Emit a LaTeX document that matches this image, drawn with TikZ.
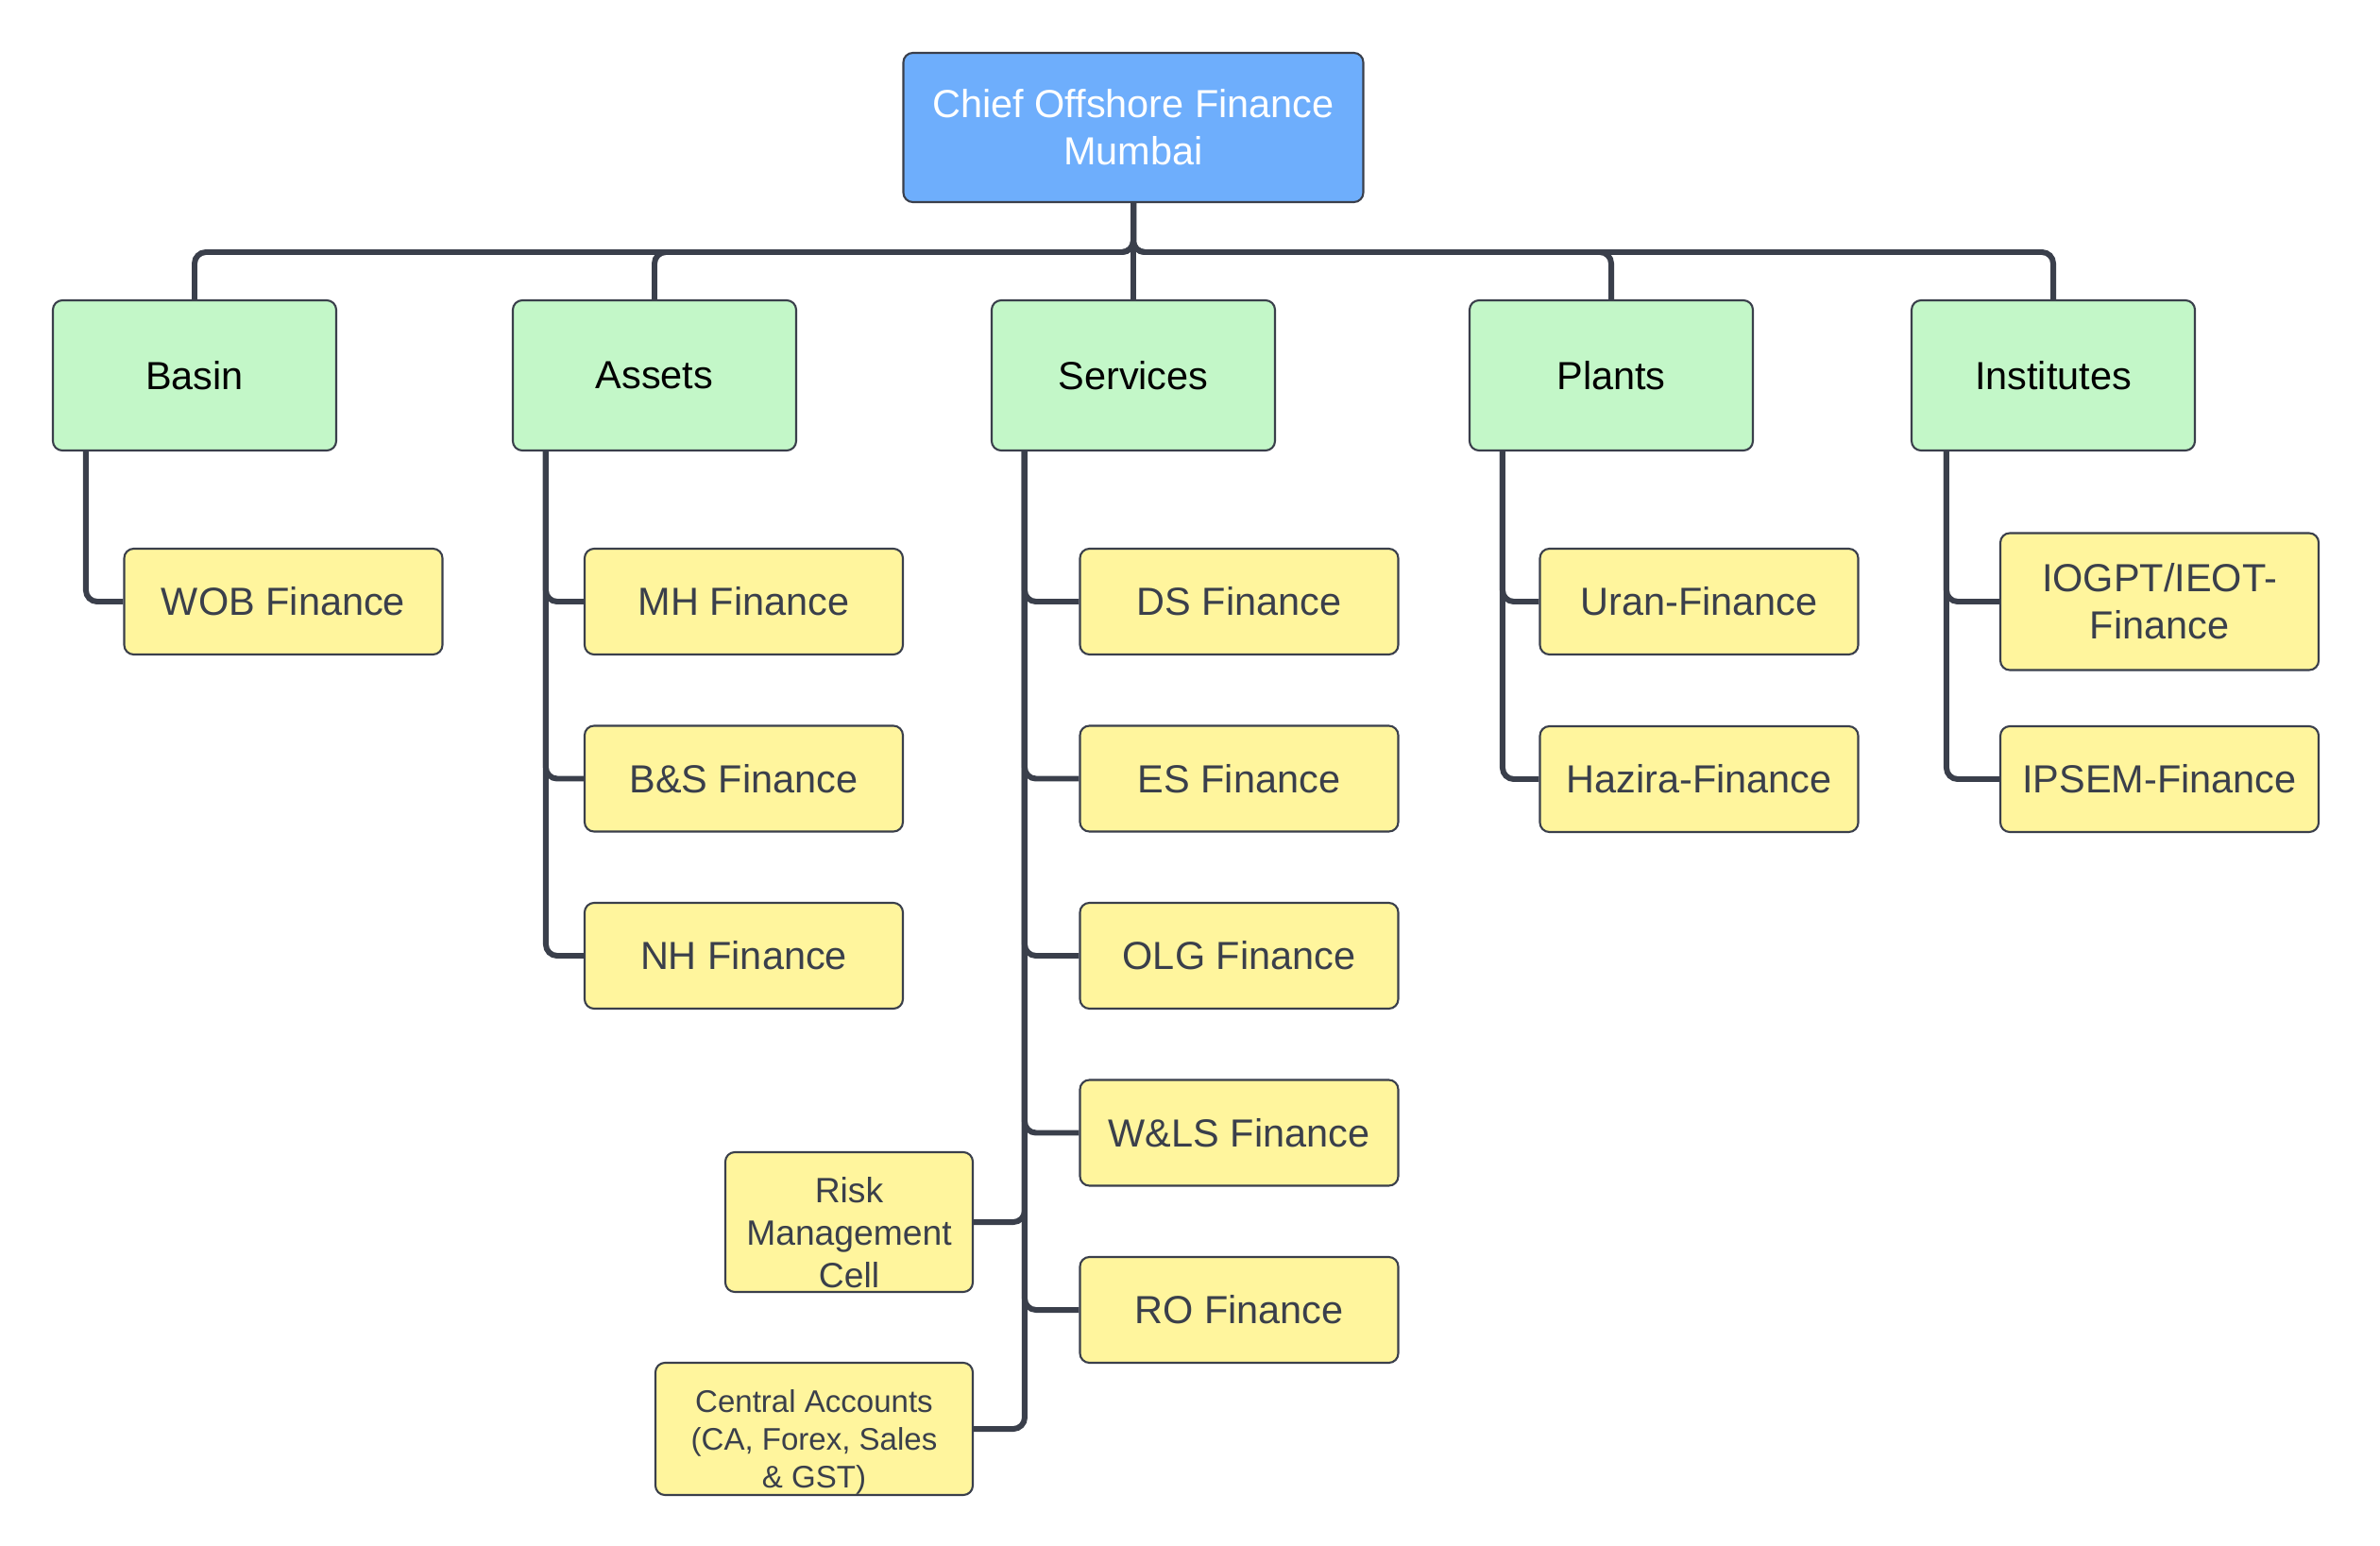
\documentclass[tikz,border=0pt]{standalone}
\usepackage{fontspec}
\setmainfont{Liberation Sans}
\usepackage{xcolor}
\definecolor{myblue}{RGB}{110,174,252}
\definecolor{mygreen}{RGB}{195,247,200}
\definecolor{myyellow}{RGB}{255,245,157}
\definecolor{mygray}{RGB}{58,63,75}

\begin{document}
\begin{tikzpicture}[x=1cm,y=-1cm,
  box/.style={draw=mygray,line width=0.6pt,rounded corners=0.1cm,align=center,inner sep=0pt},
  rootbox/.style={box,fill=myblue,text=white,minimum width=4.87cm,minimum height=1.58cm,font=\fontsize{11.8}{14.2}\selectfont},
  deptbox/.style={box,fill=mygreen,text=black,minimum width=3cm,minimum height=1.59cm,font=\fontsize{11.8}{14.2}\selectfont},
  unitbox/.style={box,fill=myyellow,text=mygray,minimum width=3.37cm,minimum height=1.12cm,font=\fontsize{11.8}{14.2}\selectfont},
  conn/.style={draw=mygray,line width=1.7pt,rounded corners=0.12cm}]
  \useasboundingbox (0,0) rectangle (25.2,16.37);

  \node[rootbox] (cof) at (12,1.35) {Chief Offshore Finance\\Mumbai};
  \coordinate (bus) at (12,2.67);

  \foreach \n/\txt/\x in {basin/Basin/2.06, assets/Assets/6.93, services/Services/12, plants/Plants/17.06, institutes/Institutes/21.74}{
    \node[deptbox] (\n) at (\x,3.975) {\txt};
  }

  \node[unitbox] (wob) at (3,6.37) {WOB Finance};
  \foreach \n/\txt [count=\i] in {mh/MH Finance, bs/B\&S Finance, nh/NH Finance}{
    \node[unitbox] (\n) at (7.875,{6.37+(\i-1)*1.875}) {\txt};
  }
  \foreach \n/\txt [count=\i] in {ds/DS Finance, es/ES Finance, olg/OLG Finance, wls/W\&LS Finance, ro/RO Finance}{
    \node[unitbox] (\n) at (13.12,{6.37+(\i-1)*1.875}) {\txt};
  }
  \node[unitbox,minimum width=2.62cm,minimum height=1.48cm,font=\fontsize{10.6}{12.8}\selectfont] (rmc) at (8.99,12.94) {\\[1pt]Risk\\Management\\Cell};
  \node[unitbox,minimum width=3.36cm,minimum height=1.4cm,font=\fontsize{9.4}{11.4}\selectfont] (ca) at (8.62,15.13) {\\[3.5pt]Central Accounts\\(CA, Forex, Sales\\\& GST)};
  \node[unitbox] (uran) at (17.99,6.37) {Uran-Finance};
  \node[unitbox] (hazira) at (17.99,8.25) {Hazira-Finance};
  \node[unitbox,minimum height=1.45cm] (iogpt) at (22.865,6.37) {IOGPT/IEOT-\\Finance};
  \node[unitbox] (ipsem) at (22.865,8.25) {IPSEM-Finance};

  \draw[conn] (cof.south) -- (services.north);
  \foreach \n in {basin,assets,plants,institutes}
    \draw[conn] (cof.south) -- (bus) -| (\n.north);

  \draw[conn] ([xshift=0.36cm]basin.south west) |- (wob.west);
  \foreach \n in {mh,bs,nh}
    \draw[conn] ([xshift=0.36cm]assets.south west) |- (\n.west);
  \foreach \n in {ds,es,olg,wls,ro}
    \draw[conn] ([xshift=0.36cm]services.south west) |- (\n.west);
  \foreach \n in {rmc,ca}
    \draw[conn] ([xshift=0.36cm]services.south west) |- (\n.east);
  \foreach \n in {uran,hazira}
    \draw[conn] ([xshift=0.36cm]plants.south west) |- (\n.west);
  \foreach \n in {iogpt,ipsem}
    \draw[conn] ([xshift=0.38cm]institutes.south west) |- (\n.west);
\end{tikzpicture}
\end{document}
